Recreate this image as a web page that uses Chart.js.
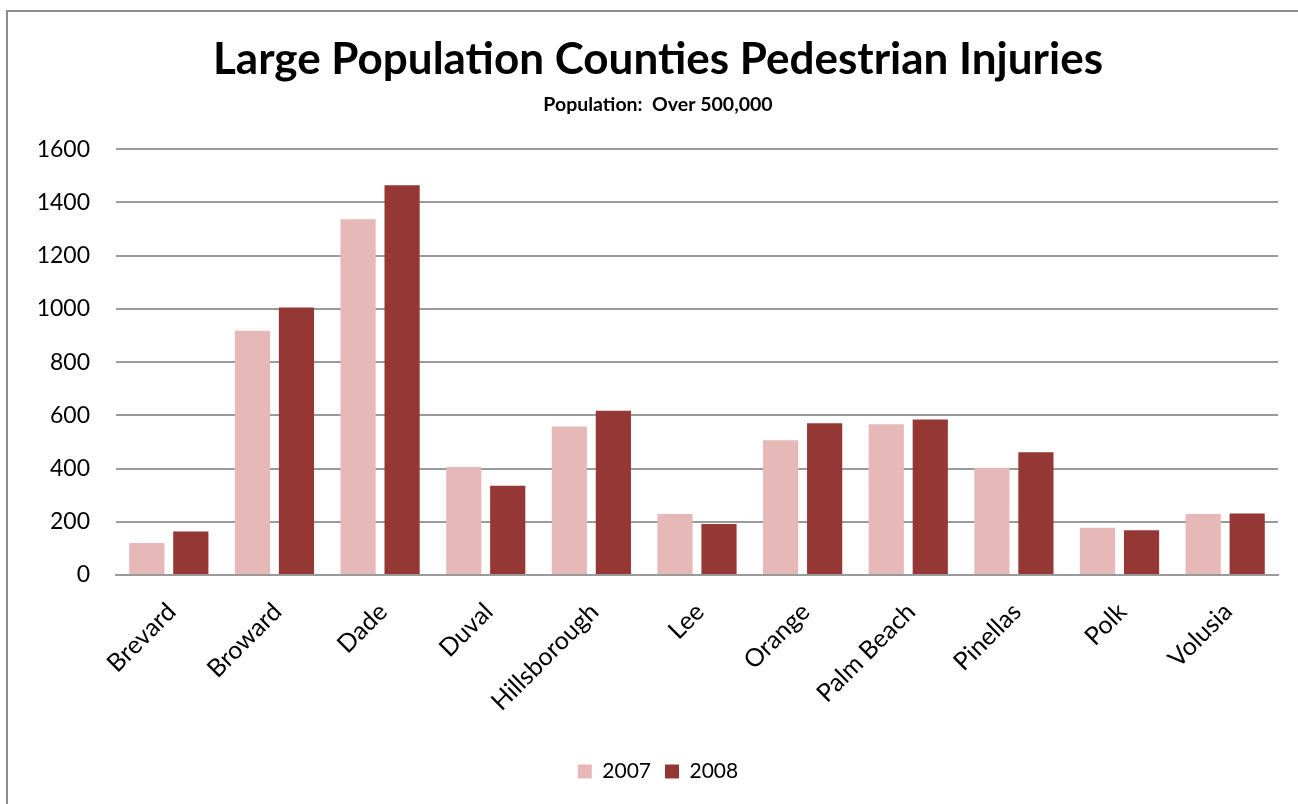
<!DOCTYPE html>
<html>
<head>
<meta charset="utf-8">
<title>Large Population Counties Pedestrian Injuries</title>
<script src="https://cdn.jsdelivr.net/npm/chart.js@4/dist/chart.umd.min.js"></script>
<style>
  html, body { margin: 0; padding: 0; background: #fff; overflow: hidden; }
  #frame {
    position: absolute; left: 6px; top: 10px; width: 1400px; height: 900px;
    border: 2px solid #8c8c8c; box-sizing: border-box;
  }
  #wrap { position: absolute; left: 0; top: 0; width: 1298px; height: 804px; }
</style>
</head>
<body>
<div id="frame"></div>
<div id="wrap"><canvas id="chart"></canvas></div>
<script>
const counties = ['Brevard', 'Broward', 'Dade', 'Duval', 'Hillsborough', 'Lee',
  'Orange', 'Palm Beach', 'Pinellas', 'Polk', 'Volusia'];
const injuries2007 = [120, 918, 1337, 406, 558, 229, 506, 566, 403, 178, 229];
const injuries2008 = [163, 1005, 1465, 335, 617, 192, 570, 584, 461, 168, 231];
const seriesNames = ['2007', '2008'];
const yTicks = [0, 200, 400, 600, 800, 1000, 1200, 1400, 1600];

const FONT = 'Lato, "Open Sans", sans-serif';
const gridColor = '#9a9a9a';

const config = {
  type: 'bar',
  data: {
    labels: counties,
    datasets: [{
      label: seriesNames[0],
      data: injuries2007,
      backgroundColor: '#e6b9b8',
      borderWidth: 0
    }, {
      label: seriesNames[1],
      data: injuries2008,
      backgroundColor: '#953735',
      borderWidth: 0
    }]
  },
  options: {
    responsive: true,
    maintainAspectRatio: false,
    animation: false,
    layout: { padding: { left: 38, right: 20, top: 0, bottom: 12 } },
    datasets: {
      bar: { categoryPercentage: 0.833, barPercentage: 0.8 }
    },
    scales: {
      x: {
        grid: { display: false, drawTicks: false },
        border: { display: true, color: gridColor, width: 2 },
        ticks: {
          autoSkip: false,
          minRotation: 45,
          maxRotation: 45,
          padding: 22,
          labelOffset: 3,
          color: '#000',
          font: { family: FONT, size: 25 }
        },
        afterFit: (scale) => { scale.height = 172; }
      },
      y: {
        min: yTicks[0],
        max: yTicks[yTicks.length - 1],
        grid: { color: gridColor, lineWidth: 2, drawTicks: false },
        border: { display: false },
        ticks: {
          stepSize: 200,
          padding: 26,
          color: '#000',
          font: { family: FONT, size: 23 },
          // plain numbers, no thousands separator
          callback: (v) => String(v)
        },
        afterFit: (scale) => { scale.width = 78; }
      }
    },
    plugins: {
      title: {
        display: true,
        text: 'Large Population Counties Pedestrian Injuries',
        color: '#000',
        font: { family: FONT, size: 44, weight: 'bold' },
        padding: { top: 33, bottom: 0 }
      },
      subtitle: {
        display: true,
        text: 'Population:  Over 500,000',
        color: '#000',
        font: { family: FONT, size: 19.5, weight: 'bold' },
        padding: { top: 7, bottom: 33 }
      },
      legend: {
        position: 'bottom',
        labels: {
          boxWidth: 14,
          boxHeight: 14,
          padding: 14,
          color: '#000',
          font: { family: FONT, size: 21 }
        }
      },
      tooltip: { enabled: false }
    }
  }
};

new Chart(document.getElementById('chart').getContext('2d'), config);
</script>
</body>
</html>
